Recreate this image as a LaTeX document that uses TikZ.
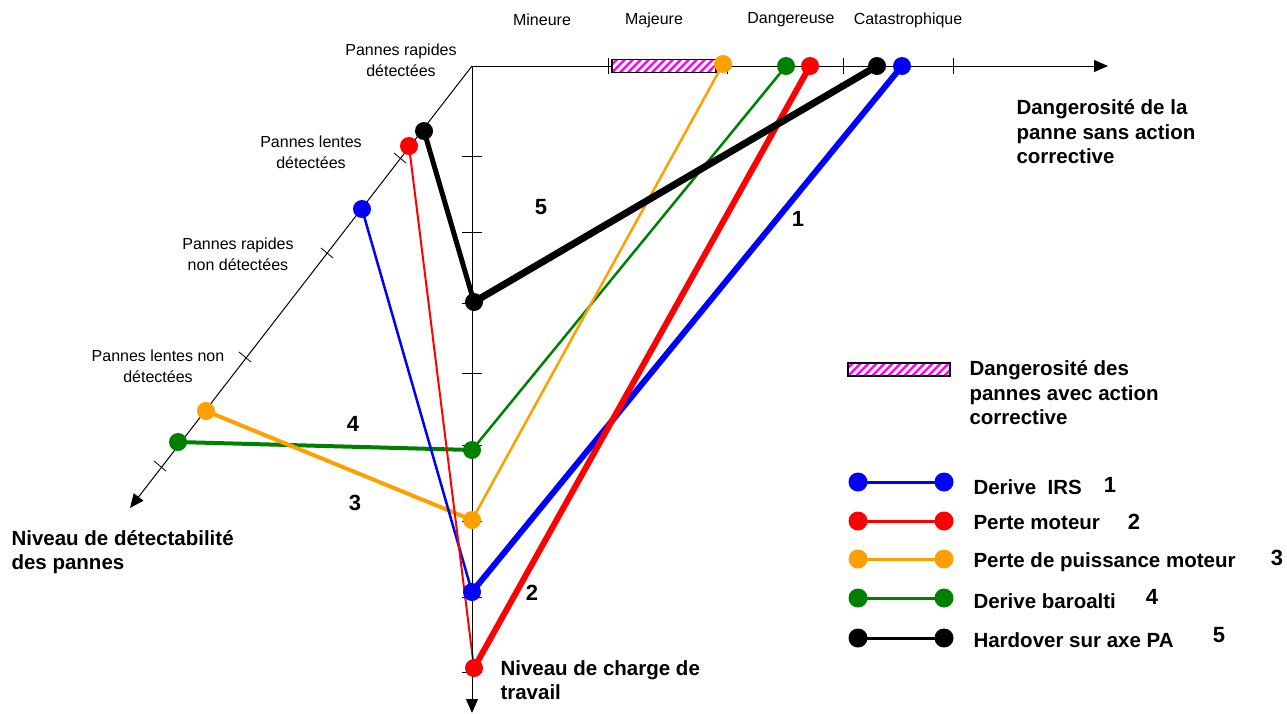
\documentclass[tikz,border=0pt]{standalone}
\usepackage{fontspec}
\setmainfont{Liberation Sans}
\usetikzlibrary{arrows.meta}
\pgfdeclarelayer{bg}
\pgfsetlayers{bg,main}
\definecolor{cblue}{RGB}{0,0,255}
\definecolor{cred}{RGB}{255,0,0}
\definecolor{corange}{RGB}{255,160,0}
\definecolor{cgreen}{RGB}{0,128,0}
\definecolor{cmag}{RGB}{255,0,255}
\begin{document}
\begin{tikzpicture}[x=1pt,y=-1pt,
  dot/.style={circle,inner sep=0pt,minimum size=18pt},
  ldot/.style={circle,inner sep=0pt,minimum size=19pt},
  ax/.style={line width=1pt},
  axarrow/.style={ax,-{Triangle[length=14pt,width=12pt]}},
  tick/.style={line width=0.8pt},
  lab/.style={font=\fontsize{16}{21}\selectfont, align=center},
  blab/.style={font=\bfseries\fontsize{20.5}{24.5}\selectfont, align=left, anchor=west},
  num/.style={font=\bfseries\fontsize{22}{24}\selectfont},
  conn/.style={line cap=round},
  hatch/.style={draw=black, line width=1.5pt, fill=cmag, inner sep=0pt,
    path picture={\foreach \i in {-20,-12,...,120}
      \draw[white, line width=3pt] ([xshift=\i pt]path picture bounding box.south west) -- ++(20pt,20pt);}},
  ]
\useasboundingbox (0,0) rectangle (1287,713);

% axes
\coordinate (O) at (472,66);
\coordinate (Xend) at (1108,66);
\coordinate (Yend) at (472,713);
\coordinate (Dend) at (130,508);
\draw[axarrow] (O) -- (Xend);
\draw[axarrow] (O) -- (Yend);
\draw[axarrow] (O) -- (Dend);

% ticks top axis
\foreach \x in {608,727,843,953} \draw[tick] (\x,58) -- (\x,74);
% ticks vertical axis
\foreach \y in {156,232,303,373,445,521,597,672} \draw[tick] (462,\y) -- (482,\y);
% ticks diagonal axis
\foreach \p in {(400,158),(327,253),(245,357),(160,466)}
  \draw[tick] \p ++(-6,-5) -- ++(12,10);

% axis labels
\node[lab] (lmin) at (542,20) {Mineure};
\node[lab] (lmaj) at (654,20) {Majeure};
\node[lab] (ldan) at (791,20) {Dangereuse};
\node[lab] (lcat) at (908,20) {Catastrophique};
\node[lab] (lprd) at (401,60) {Pannes rapides\\détectées};
\node[lab] (lpld) at (311,152) {Pannes lentes\\détectées};
\node[lab] (lprn) at (238,254) {Pannes rapides\\non détectées};
\node[lab] (lpln) at (158,366) {Pannes lentes non\\détectées};
\node[blab] (ltop) at (1013,132) {Dangerosité de la\\panne sans action\\corrective};
\node[blab] (lleft) at (8,552) {Niveau de détectabilité\\des pannes};
\node[blab] (lbot) at (497,680) {Niveau de charge de\\travail};

% hatched rectangle on top axis
\node[hatch, minimum width=104pt, minimum height=13pt] (rect) at (664,66) {};

% dots
\node[dot, fill=corange] (t3) at (723,64) {};
\node[dot, fill=cgreen]  (t4) at (786,66) {};
\node[dot, fill=cred]    (t2) at (810,66) {};
\node[dot, fill=black]   (t5) at (877,66) {};
\node[dot, fill=cblue]   (t1) at (902,66) {};

\node[dot, fill=black]   (d5) at (424,131) {};
\node[dot, fill=cred]    (d2) at (409,146) {};
\node[dot, fill=cblue]   (d1) at (362,209) {};
\node[dot, fill=corange] (d3) at (206,411) {};
\node[dot, fill=cgreen]  (d4) at (178,442) {};

\node[dot, fill=black]   (v5) at (474,302) {};
\node[dot, fill=cgreen]  (v4) at (472,450) {};
\node[dot, fill=corange] (v3) at (472,520) {};
\node[dot, fill=cblue]   (v1) at (472,592) {};
\node[dot, fill=cred]    (v2) at (474,668) {};

% connectors
\begin{pgfonlayer}{bg}
\draw[conn, cgreen, line width=2.5pt] (t4.center) -- (v4.center);
\draw[conn, cgreen, line width=4pt] (d4.center) -- (v4.center);
\draw[conn, corange, line width=2.5pt] (t3.center) -- (v3.center);
\draw[conn, corange, line width=4pt] (d3.center) -- (v3.center);
\draw[conn, cblue, line width=2.5pt] (d1.center) -- (v1.center);
\draw[conn, cred, line width=2pt] (d2.center) -- (v2.center);
\draw[conn, cblue, line width=6pt] (t1.center) -- (v1.center);
\draw[conn, cred, line width=6pt] (t2.center) -- (v2.center);
\draw[conn, black, line width=7pt] (t5.center) -- (v5.center);
\draw[conn, black, line width=5pt] (d5.center) -- (v5.center);
\end{pgfonlayer}

% numbers
\node[num] (n5) at (541,207) {5};
\node[num] (n1) at (798,219) {1};
\node[num] (n4) at (353,424) {4};
\node[num] (n3) at (355,503) {3};
\node[num] (n2) at (532,593) {2};

% legend
\node[hatch, minimum width=102pt, minimum height=13pt] (lgrect) at (899,369.5) {};
\node[blab] (lgtxt) at (966,393) {Dangerosité des\\pannes avec action\\corrective};

\foreach \y/\c/\n in {482/cblue/a,521/cred/b,559/corange/c,598/cgreen/d,638/black/e}{
  \node[ldot, fill=\c] (lg\n1) at (858,\y) {};
  \node[ldot, fill=\c] (lg\n2) at (944,\y) {};
  \begin{pgfonlayer}{bg}
  \draw[\c, line width=3pt] (lg\n1.center) -- (lg\n2.center);
  \end{pgfonlayer}
}
\node[blab] (lga) at (970,487) {Derive\ \ IRS};
\node[blab] (lgb) at (970,523) {Perte moteur};
\node[blab] (lgc) at (970,562) {Perte de puissance moteur};
\node[blab] (lgd) at (970,601) {Derive baroalti};
\node[blab] (lge) at (970,640) {Hardover sur axe PA};
\node[num] (lna) at (1110,485) {1};
\node[num] (lnb) at (1134,522) {2};
\node[num] (lnc) at (1277,558) {3};
\node[num] (lnd) at (1152,597) {4};
\node[num] (lne) at (1219,635) {5};
\end{tikzpicture}
\end{document}
